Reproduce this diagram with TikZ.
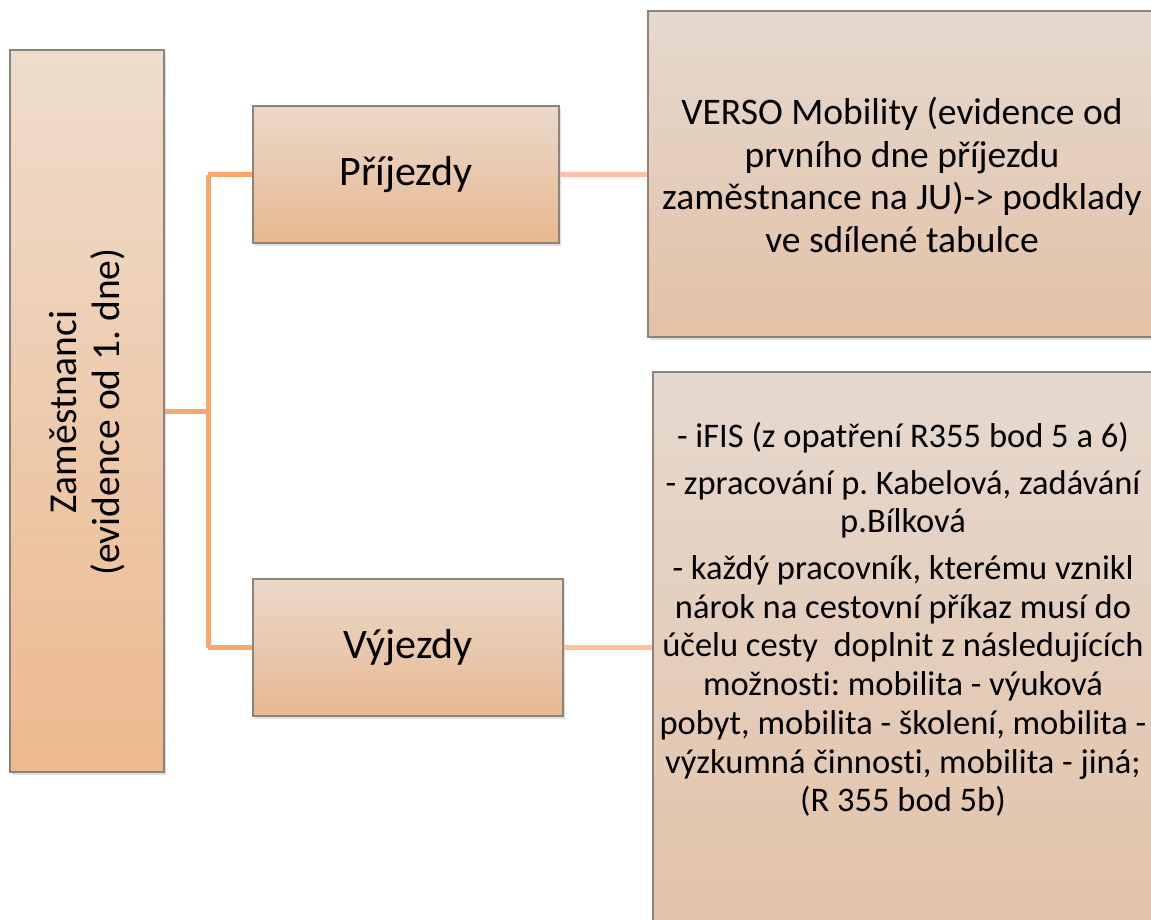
\documentclass[tikz,border=0pt]{standalone}
\usepackage{fontspec}
\setmainfont{Carlito}[Ligatures=NoCommon]
\frenchspacing
\usetikzlibrary{shadows}
\definecolor{boxtop}{HTML}{EEDDCD}
\definecolor{boxbot}{HTML}{EDB98E}
\definecolor{midtop}{HTML}{EAD9CB}
\definecolor{midbot}{HTML}{E8B890}
\definecolor{rtop}{HTML}{E5D9CF}
\definecolor{rbot}{HTML}{E3C1A6}
\definecolor{edge}{HTML}{8E837B}
\definecolor{treeline}{HTML}{F7A66C}
\definecolor{leafline}{HTML}{F9C2A2}
\tikzset{
  base/.style={draw=edge, line width=1.2pt, rectangle, inner sep=0pt,
    drop shadow={opacity=0.25, shadow xshift=1.5pt, shadow yshift=-3pt}},
  rootbox/.style={base, top color=boxtop, bottom color=boxbot},
  midbox/.style={base, top color=midtop, bottom color=midbot},
  leafbox/.style={base, top color=rtop, bottom color=rbot},
  treeconn/.style={draw=treeline, line width=5pt},
  leafconn/.style={draw=leafline, line width=5pt},
}
\begin{document}
\begin{tikzpicture}[x=1pt,y=-1pt]
\useasboundingbox (0,0) rectangle (1151,919);
\clip (0,0) rectangle (1151,919);
\fill[white] (0,0) rectangle (1151,919);

\coordinate (j) at (208,411);
\coordinate (jt) at (208,174.5);
\coordinate (jb) at (208,647.5);

\node[rootbox, minimum width=154pt, minimum height=722pt] (root) at (87,411) {};
\node[rotate=90, align=center, font=\fontsize{39.5}{43}\selectfont] (roottxt) at (87,412)
  {Zaměstnanci\\(evidence od 1. dne)};

\node[midbox, minimum width=306pt, minimum height=137pt, font=\fontsize{42}{46}\selectfont] (prij) at (406,174.5) {Příjezdy};
\node[midbox, minimum width=310pt, minimum height=137pt, font=\fontsize{42}{46}\selectfont] (vyj) at (408,647.5) {Výjezdy};

\node[leafbox, minimum width=512pt, minimum height=326pt] (verso) at (904,174) {};
\node[align=center, inner sep=0pt, font=\fontsize{37.5}{42.5}\selectfont] (versotxt) at (902,175)
  {VERSO Mobility (evidence od\\prvního dne příjezdu\\zaměstnance na JU)-> podklady\\ve sdílené tabulce};

\node[leafbox, minimum width=507pt, minimum height=588pt] (ifis) at (906.5,666) {};
\node[anchor=north, align=center, font=\fontsize{34.5}{38.7}\selectfont, inner sep=0pt] (ifistxt) at (903,422)
  {- iFIS (z opatření R355 bod 5 a 6)\\[8pt]
   - zpracování p. Kabelová, zadávání\\p.Bílková\\[8pt]
   - každý pracovník, kterému vznikl\\nárok na cestovní příkaz musí do\\účelu cesty\ \ doplnit z následujících\\možnosti: mobilita - výuková\\pobyt, mobilita - školení, mobilita -\\výzkumná činnosti, mobilita - jiná;\\(R 355 bod 5b)};

\draw[treeconn] (root.east |- j) -- (j);
\draw[treeconn] (jt) -- (jb);
\draw[treeconn] (jt) -- (prij.west);
\draw[treeconn] (jb) -- (vyj.west);
\draw[leafconn] (prij.east) -- (verso.west |- prij.east);
\draw[leafconn] (vyj.east) -- (ifis.west |- vyj.east);
\end{tikzpicture}
\end{document}
